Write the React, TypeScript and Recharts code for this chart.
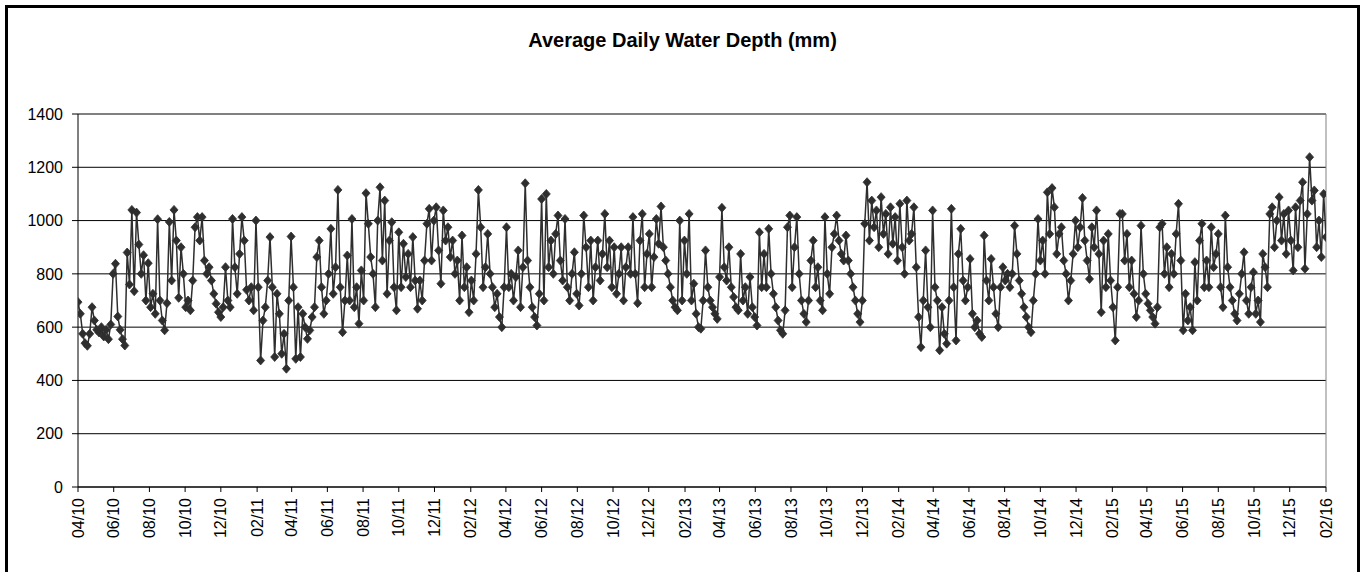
import React from 'react';
import { LineChart, Line, XAxis, YAxis, CartesianGrid, ReferenceLine } from 'recharts';

const FONT = 'Arial, "Liberation Sans", sans-serif';
const DAY_MS = 86400000;
const START = Date.UTC(2010, 3, 1);
// one reading every 4 days, starting 1 Apr 2010
const STEP_DAYS = 4;

// Apr 2010 - Mar 2011
const depthPart1 = [
  694, 650, 575, 540, 530, 575, 675, 625, 590, 580,
  600, 565, 590, 555, 610, 800, 838, 640, 590, 555,
  531, 880, 760, 1040, 735, 1030, 910, 800, 870, 700,
  840, 675, 725, 650, 1005, 700, 625, 588, 690, 995,
  775, 1040, 925, 710, 900, 800, 675, 700, 663, 775,
  975, 1013, 925, 1013, 850, 800, 825, 775, 725, 688,
  656, 638, 675, 825, 700, 675, 1006, 825, 725, 875,
  1013, 925, 740, 700, 750, 663, 1000, 750, 475, 625,
  675, 775, 938, 750, 488, 725,
];

// Mar 2011 - Mar 2012
const depthPart2 = [
  650, 500, 575, 444, 700, 940, 750, 481, 675, 488,
  650, 600, 556, 588, 638, 675, 863, 925, 750, 650,
  700, 800, 969, 725, 825, 1115, 750, 581, 700, 869,
  700, 1006, 675, 750, 613, 813, 700, 1103, 988, 863,
  800, 675, 1000, 1125, 850, 1075, 725, 925, 994, 750,
  663, 956, 750, 913, 788, 875, 750, 938, 775, 669,
  775, 700, 850, 988, 1044, 850, 1000, 1050, 888, 763,
  1038, 925, 975, 863, 925, 800, 850, 700, 944, 750,
  825, 656, 775, 700, 875, 1115, 975, 750, 825, 950,
];

// Mar 2012 - Mar 2013
const depthPart3 = [
  800, 750, 675, 725, 638, 600, 750, 975, 750, 800,
  700, 788, 888, 675, 825, 1140, 850, 750, 675, 638,
  606, 725, 1081, 700, 1100, 825, 925, 800, 950, 1019,
  850, 775, 1006, 750, 700, 800, 881, 725, 681, 800,
  1019, 900, 750, 925, 700, 825, 925, 775, 875, 1025,
  825, 925, 750, 900, 725, 800, 900, 700, 825, 900,
  800, 1013, 800, 690, 925, 1025, 750, 875, 950, 750,
  863, 1006, 913, 1053, 900, 850, 800, 750, 700, 675,
  663, 1000, 700, 925, 800, 1025, 700, 763, 650, 600,
];

// Mar 2013 - Mar 2014
const depthPart4 = [
  594, 700, 888, 750, 700, 675, 650, 631, 788, 1048,
  825, 775, 900, 750, 713, 675, 663, 875, 700, 750,
  650, 788, 675, 638, 606, 956, 750, 875, 750, 969,
  800, 725, 675, 625, 588, 575, 663, 975, 1019, 750,
  900, 1013, 800, 700, 650, 619, 700, 850, 925, 750,
  825, 700, 663, 1013, 800, 725, 900, 950, 1019, 925,
  875, 850, 944, 850, 800, 750, 700, 650, 619, 700,
  988, 1144, 925, 1075, 975, 1038, 900, 1088, 950, 1025,
  875, 1050, 913, 1013, 850, 1063, 900, 800, 1075, 925,
];

// Mar 2014 - Feb 2015
const depthPart5 = [
  950, 1050, 825, 638, 525, 700, 888, 675, 600, 1038,
  750, 700, 513, 675, 575, 538, 700, 1044, 750, 550,
  875, 969, 775, 700, 750, 856, 650, 600, 625, 575,
  563, 944, 775, 700, 856, 750, 650, 600, 750, 825,
  775, 800, 750, 800, 981, 875, 775, 725, 675, 638,
  600, 581, 700, 800, 1006, 850, 925, 800, 1106, 950,
  1122, 1050, 875, 950, 975, 850, 800, 700, 775, 875,
  1000, 900, 975, 1085, 925, 850, 781, 975, 900, 1038,
  875, 656, 925, 750, 950, 775, 675, 550, 750, 1025,
];

// Feb 2015 - Feb 2016
const depthPart6 = [
  1025, 850, 950, 750, 850, 725, 638, 700, 981, 800,
  725, 688, 663, 638, 613, 675, 975, 988, 800, 900,
  750, 875, 800, 950, 1063, 850, 588, 725, 625, 675,
  588, 844, 700, 925, 988, 750, 850, 750, 975, 825,
  875, 950, 750, 675, 1019, 825, 750, 700, 650, 625,
  725, 800, 881, 700, 650, 750, 806, 650, 700, 619,
  875, 825, 750, 1025, 1050, 900, 1000, 1088, 925, 1025,
  875, 1038, 925, 813, 1050, 900, 1075, 1144, 819, 1025,
  1238, 1075, 1113, 900, 1000, 863, 1100, 938,
];

const xTickLabels = [
  '04/10', '06/10', '08/10', '10/10', '12/10',
  '02/11', '04/11', '06/11', '08/11', '10/11', '12/11',
  '02/12', '04/12', '06/12', '08/12', '10/12', '12/12',
  '02/13', '04/13', '06/13', '08/13', '10/13', '12/13',
  '02/14', '04/14', '06/14', '08/14', '10/14', '12/14',
  '02/15', '04/15', '06/15', '08/15', '10/15', '12/15',
  '02/16',
];

const yTicks = [0, 200, 400, 600, 800, 1000, 1200, 1400];

const dayOf = (label: string) => {
  const [mm, yy] = label.split('/').map(Number);
  return Math.round((Date.UTC(2000 + yy, mm - 1, 1) - START) / DAY_MS);
};

const depths = [...depthPart1, ...depthPart2, ...depthPart3, ...depthPart4, ...depthPart5, ...depthPart6];
const data = depths.map((depth, i) => ({ day: i * STEP_DAYS, depth }));
const xTicks = xTickLabels.map(dayOf);
const labelByDay = new Map(xTicks.map((d, i) => [d, xTickLabels[i]]));
const X_MAX = xTicks[xTicks.length - 1];

const DateTick = (props: any) => {
  const { x, y, payload } = props;
  return (
    <text
      x={x}
      y={y}
      transform={`rotate(-90, ${x}, ${y})`}
      textAnchor="end"
      dy="0.35em"
      fontSize={16}
      fontFamily={FONT}
      fill="#000"
    >
      {labelByDay.get(payload.value)}
    </text>
  );
};

const renderDiamond = (props: any) => {
  const { cx, cy, index } = props;
  if (cx == null || cy == null) return <g key={index} />;
  return (
    <path
      key={index}
      d={`M${cx},${cy - 4.5}L${cx + 4},${cy}L${cx},${cy + 4.5}L${cx - 4},${cy}Z`}
      fill="#2e2e2e"
      stroke="#2e2e2e"
      strokeWidth={0.8}
    />
  );
};

export default function App() {
  return (
    <div style={{ position: 'absolute', left: 0, top: 0, width: 1364, height: 572, overflow: 'hidden', background: '#fff' }}>
      <div
        style={{
          position: 'absolute',
          left: 5,
          top: 5,
          width: 1355,
          height: 600,
          border: '3px solid #000',
          boxSizing: 'border-box',
          background: '#fff',
        }}
      >
        <div
          style={{
            position: 'absolute',
            top: 21,
            left: 0,
            right: 0,
            textAlign: 'center',
            fontFamily: FONT,
            fontWeight: 'bold',
            fontSize: 20,
            color: '#000',
          }}
        >
          Average Daily Water Depth (mm)
        </div>
        <LineChart width={1349} height={570} data={data} margin={{ top: 106, right: 31, bottom: 0, left: 0 }}>
          <CartesianGrid vertical={false} stroke="#000" />
          <XAxis
            dataKey="day"
            type="number"
            domain={[0, X_MAX]}
            ticks={xTicks}
            interval={0}
            height={91}
            tickSize={5}
            tickMargin={6}
            tick={<DateTick />}
            axisLine={{ stroke: '#000' }}
            tickLine={{ stroke: '#000' }}
            allowDataOverflow
          />
          <YAxis
            domain={[0, 1400]}
            ticks={yTicks}
            interval={0}
            width={70}
            tickSize={6}
            tickMargin={9}
            tick={{ fontSize: 16, fill: '#000', fontFamily: FONT }}
            axisLine={{ stroke: '#000' }}
            tickLine={{ stroke: '#000' }}
            allowDataOverflow
          />
          <ReferenceLine x={X_MAX} stroke="#808080" />
          <Line
            type="linear"
            dataKey="depth"
            stroke="#2e2e2e"
            strokeWidth={1.5}
            dot={renderDiamond}
            activeDot={false}
            isAnimationActive={false}
          />
        </LineChart>
      </div>
    </div>
  );
}
